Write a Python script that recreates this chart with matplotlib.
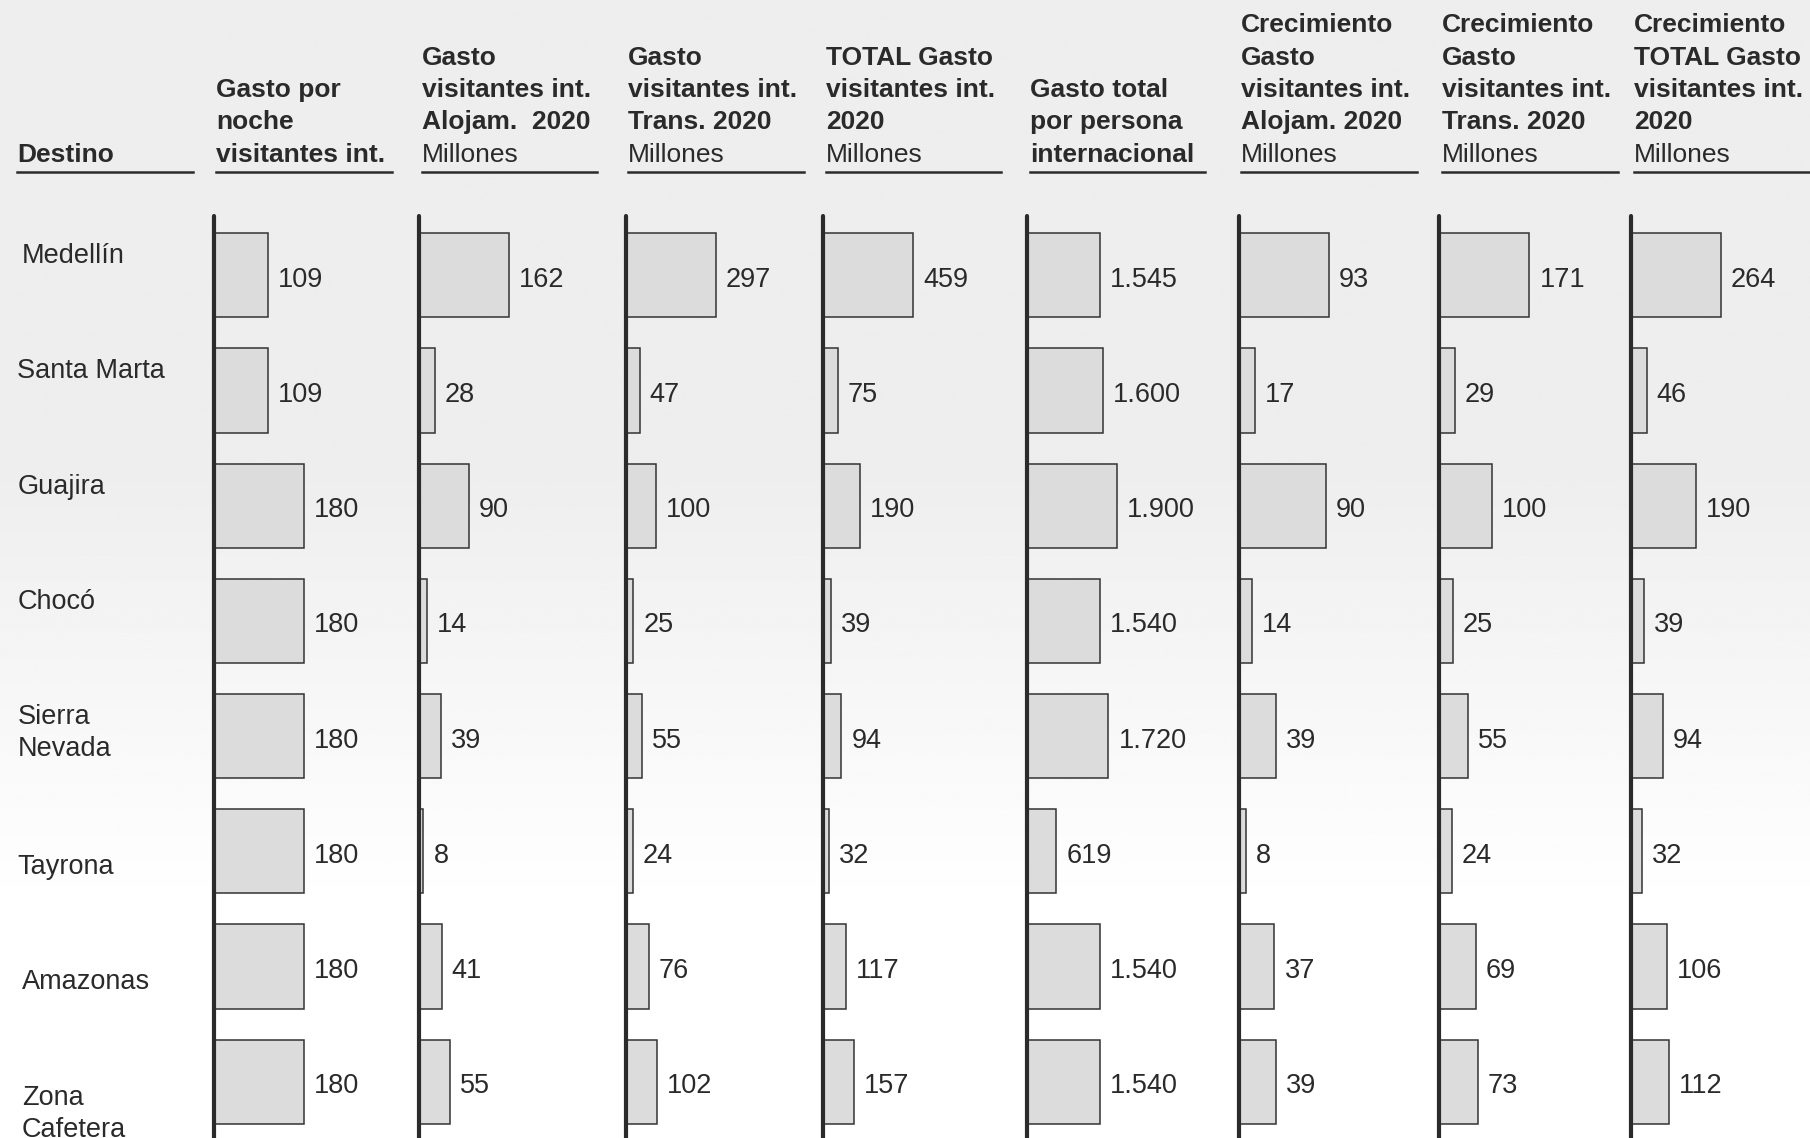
import numpy as np
import matplotlib
matplotlib.use('Agg')
import matplotlib.pyplot as plt
from matplotlib.lines import Line2D
from matplotlib.transforms import blended_transform_factory

plt.rcParams['font.family'] = ['Liberation Sans', 'DejaVu Sans']

# datos por destino
destinos = ['Medellín', 'Santa Marta', 'Guajira', 'Chocó', 'Sierra\nNevada',
            'Tayrona', 'Amazonas', 'Zona\nCafetera']
gasto_noche = [109, 109, 180, 180, 180, 180, 180, 180]
alojam_2020 = [162, 28, 90, 14, 39, 8, 41, 55]
trans_2020 = [297, 47, 100, 25, 55, 24, 76, 102]
total_2020 = [459, 75, 190, 39, 94, 32, 117, 157]
gasto_persona = [1545, 1600, 1900, 1540, 1720, 619, 1540, 1540]
crec_alojam = [93, 17, 90, 14, 39, 8, 37, 39]
crec_trans = [171, 29, 100, 25, 55, 24, 69, 73]
crec_total = [264, 46, 190, 39, 94, 32, 106, 112]

# encabezados: (lineas en negrita, subtitulo)
encabezados = [
    (['Gasto por', 'noche', 'visitantes int.'], None),
    (['Gasto', 'visitantes int.', 'Alojam.  2020'], 'Millones'),
    (['Gasto', 'visitantes int.', 'Trans. 2020'], 'Millones'),
    (['TOTAL Gasto', 'visitantes int.', '2020'], 'Millones'),
    (['Gasto total', 'por persona', 'internacional'], None),
    (['Crecimiento', 'Gasto', 'visitantes int.', 'Alojam. 2020'], 'Millones'),
    (['Crecimiento', 'Gasto', 'visitantes int.', 'Trans. 2020'], 'Millones'),
    (['Crecimiento', 'TOTAL Gasto', 'visitantes int.', '2020'], 'Millones'),
]
series = [gasto_noche, alojam_2020, trans_2020, total_2020, gasto_persona,
          crec_alojam, crec_trans, crec_total]

W, H = 1810, 1138
fig = plt.figure(figsize=(W / 100, H / 100), dpi=100)

TXT = '#2a2a2a'
FS = 19.5

# fondo gris que se aclara hacia abajo
bg = fig.add_axes([0, 0, 1, 1], zorder=-10)
t = np.linspace(0, 1, 400)
shade = np.clip((t - 0.42) / 0.38, 0, 1)
grad = 238 + (255 - 238) * shade
bg.imshow(np.repeat(grad[:, None], 2, axis=1), cmap='gray', vmin=0, vmax=255,
          aspect='auto', extent=[0, 1, 0, 1], interpolation='bilinear')
bg.axis('off')

def fx(px):
    return px / W

def fy(px):
    return 1 - px / H

col_x = [213.5, 419, 625.6, 823, 1027, 1238.6, 1439.4, 1631]
col_w = 176
bar_max_px = 90
row_px = 115.2
row0 = 275.3
top_px = 215.7
y_top = -(row0 - top_px) / row_px
y_bot = 7.7
ax_h_px = (y_bot - y_top) * row_px

base_px = 161.7
pitch_px = 32.3
underline_px = 171.7

def header(x_px, bold_lines, sub):
    lines = [(s, 'bold') for s in bold_lines]
    if sub:
        lines.append((sub, 'normal'))
    n = len(lines)
    for i, (s, w) in enumerate(lines):
        y = base_px - (n - 1 - i) * pitch_px
        fig.text(fx(x_px), fy(y), s, fontsize=19, fontweight=w, color=TXT,
                 ha='left', va='baseline')
    fig.add_artist(Line2D([fx(x_px), fx(x_px + 175.5)],
                          [fy(underline_px), fy(underline_px)],
                          lw=1.8, color='#2b2b2b'))

header(17.3, ['Destino'], None)

axes = []
for k, vals in enumerate(series):
    ax = fig.add_axes([fx(col_x[k]), fy(top_px + ax_h_px), col_w / W, ax_h_px / H])
    ax.set_facecolor('none')
    ylab = np.arange(len(vals))
    ax.barh(ylab, vals, height=0.73, color='#dcdcdc', edgecolor='#333333', lw=1.1)
    ax.set_xlim(0, max(vals) * col_w / bar_max_px)
    ax.set_ylim(y_bot, y_top)
    for s in ['top', 'right', 'bottom']:
        ax.spines[s].set_visible(False)
    ax.spines['left'].set_linewidth(3)
    ax.spines['left'].set_color('#2b2b2b')
    ax.spines['left'].set_capstyle('round')
    ax.set_xticks([])
    ax.set_yticks([])
    for yi, v in zip(ylab, vals):
        ax.annotate(f'{v:,}'.replace(',', '.'), (v, yi), xytext=(7.2, -3.2),
                    textcoords='offset points', ha='left', va='center',
                    fontsize=FS, color=TXT)
    header(col_x[k] + 2.7, *encabezados[k])
    axes.append(ax)

# nombres de destino
lab_x = [21.9, 17.3, 17.3, 17.3, 17.3, 17.3, 21.9, 21.9]
lab_dy = [-0.187] * 5 + [0.117] * 3
trans = blended_transform_factory(fig.transFigure, axes[0].transData)
for i, name in enumerate(destinos):
    for j, part in enumerate(name.split('\n')):
        y = i + lab_dy[i] + j * pitch_px / row_px + 9.5 / row_px
        fig.text(fx(lab_x[i]), y, part, transform=trans, fontsize=FS,
                 color=TXT, ha='left', va='baseline')

fig.savefig('out.png', dpi=100)
